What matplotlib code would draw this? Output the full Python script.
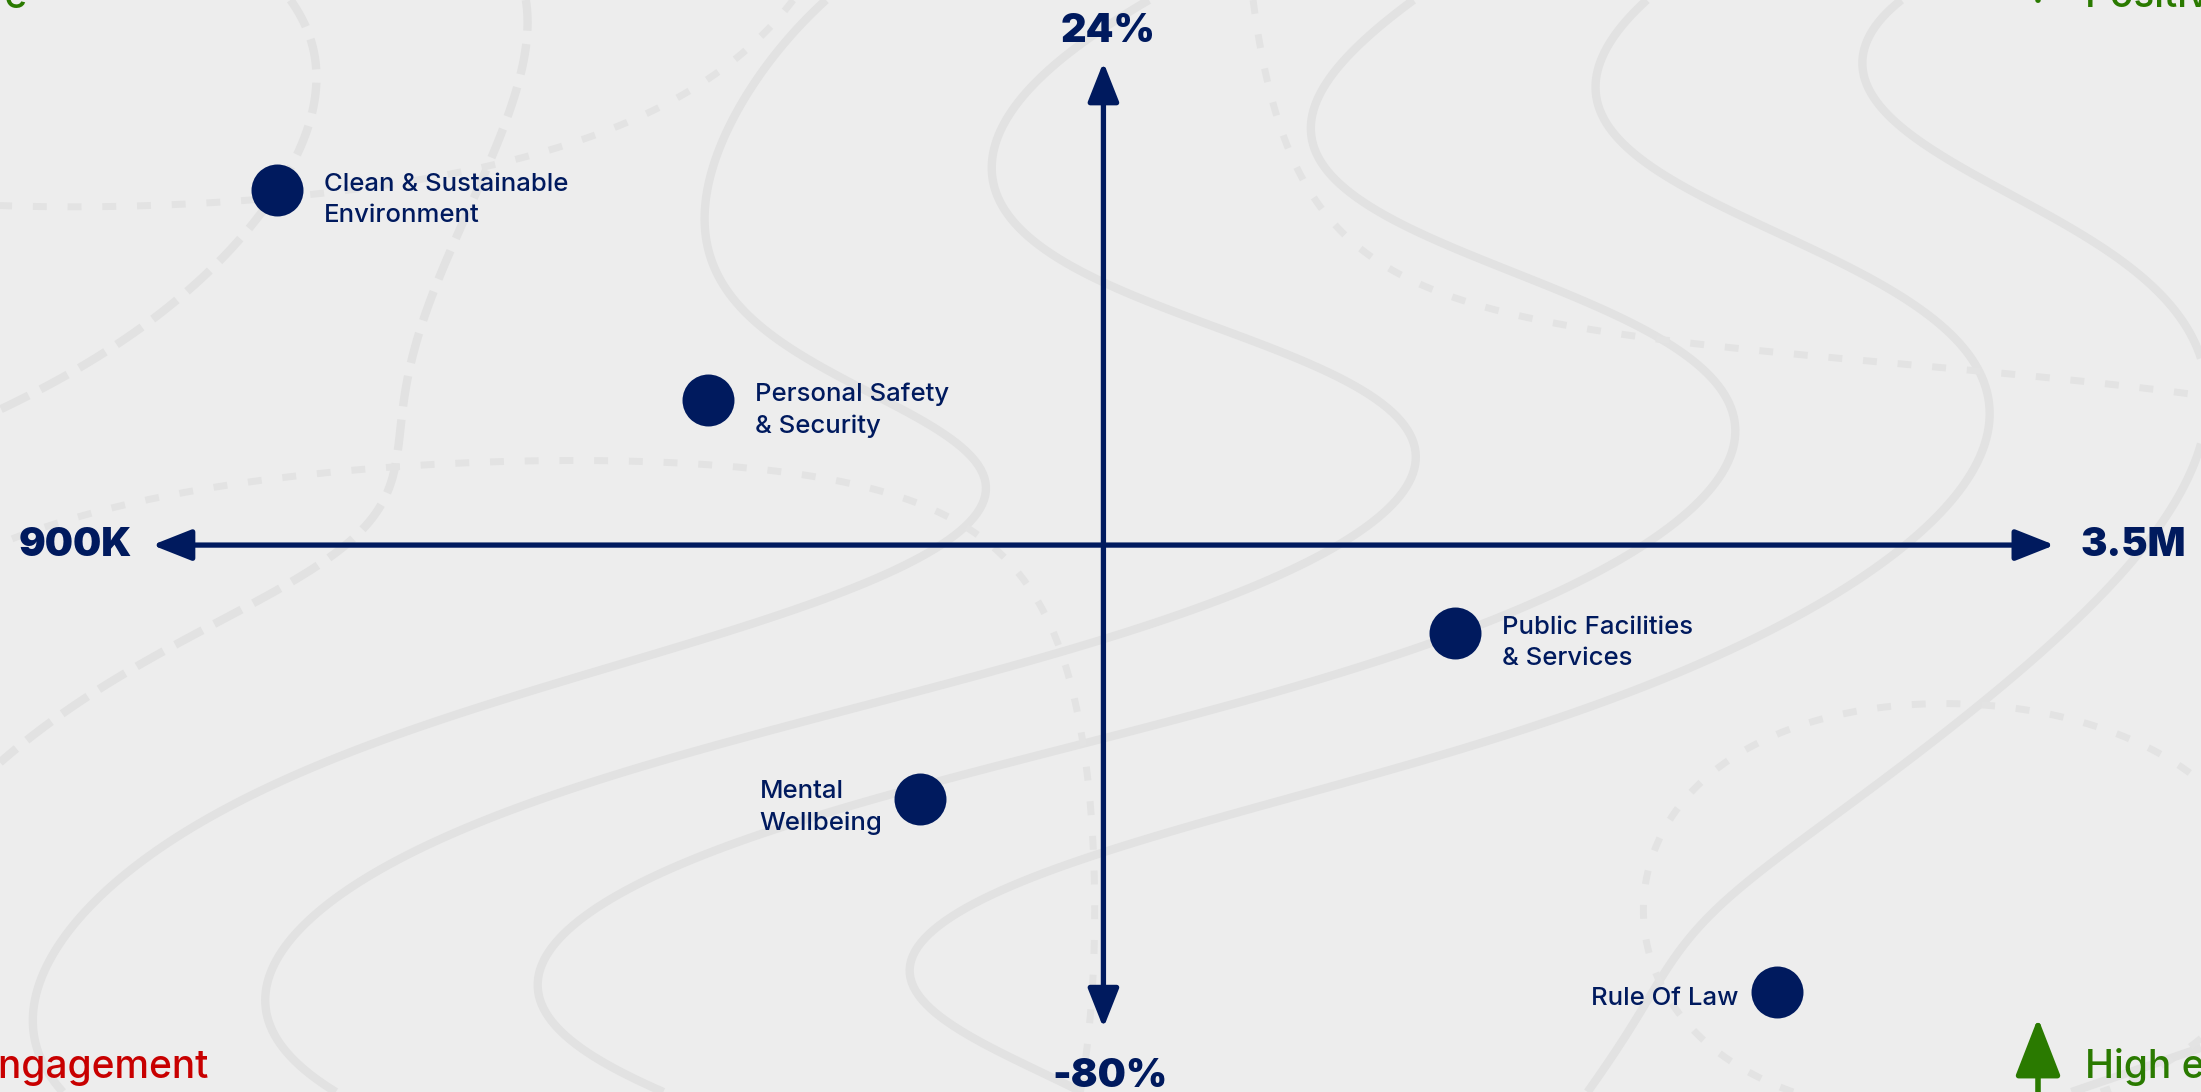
import numpy as np
import matplotlib
matplotlib.use("Agg")
import matplotlib.pyplot as plt

# data (x in millions, y in percent)
names = ["Clean & Sustainable\nEnvironment", "Personal Safety\n& Security",
         "Public Facilities\n& Services", "Mental\nWellbeing", "Rule Of Law"]
x_vals = [1.07, 1.66, 2.68, 1.95, 3.12]
y_vals = [10.2, -12.4, -37.5, -55.3, -76.1]
label_side = ["right", "right", "right", "left", "left"]

x_min, x_max = 0.9, 3.5
y_min, y_max = -80, 24
x_min_lbl, x_max_lbl = "900K", "3.5M"
y_min_lbl, y_max_lbl = "-80%", "24%"

navy = "#001A5E"
green = "#2A7A00"
red = "#C80000"
bg = "#EDEDED"

plt.rcParams['font.family'] = ['Inter', 'DejaVu Sans']

fig = plt.figure(figsize=(22.01, 10.92), dpi=100, facecolor=bg)
ax = fig.add_axes([0, 0, 1, 1])
ax.set_facecolor(bg)

# full-figure data limits so the axis arrows sit where they do in the reference
ax.set_xlim(0.692, 3.70)
ax.set_ylim(-86.9, 30.7)
ax.axis("off")

# decorative topographic background
gx, gy = np.meshgrid(np.linspace(0, 1, 500), np.linspace(0, 1, 250))
field = 5.0 * gx - 1.6 * gy + 0.7 * np.sin(6.0 * gy + 3.0 * gx) \
    + 0.4 * np.cos(10.0 * gy - 4.0 * gx) + 0.3 * np.sin(8 * gx * gy)
field2 = np.sin(4.0 * gx + 1.0) * np.cos(3.0 * gy - 0.5) + 0.6 * gx
X = 0.692 + gx * (3.70 - 0.692)
Y = -86.9 + gy * (30.7 + 86.9)
ax.contour(X, Y, field, levels=np.arange(-1.0, 6.5, 0.8), colors="#E2E2E2",
           linewidths=6, zorder=0)
ax.contour(X, Y, field2, levels=[-0.3, 0.45], colors="#E3E3E3",
           linewidths=5, linestyles=[(0, (2, 3))], zorder=0)

cx = (x_min + x_max) / 2
cy = (y_min + y_max) / 2

# axis arrows
arrow = dict(arrowstyle="<|-|>,head_length=2.4,head_width=0.95", color=navy,
             lw=3.8, shrinkA=0, shrinkB=0)
ax.annotate("", xy=(x_min, cy), xytext=(x_max, cy), arrowprops=arrow, zorder=3)
ax.annotate("", xy=(cx, y_min), xytext=(cx, y_max), arrowprops=arrow, zorder=3)

big = dict(color=navy, fontsize=28.5, fontweight="black", zorder=4,
           textcoords="offset pixels")
ax.annotate(x_min_lbl, (x_min, cy), xytext=(-20, 0), ha="right", va="center", **big)
ax.annotate(x_max_lbl, (x_max, cy), xytext=(26, 0), ha="left", va="center", **big)
ax.annotate(y_max_lbl, (cx, y_max), xytext=(5, 31), ha="center", va="center", **big)
ax.annotate(y_min_lbl, (cx, y_min), xytext=(7, -49), ha="center", va="center", **big)

# points
ax.scatter(x_vals, y_vals, s=1400, color=navy, zorder=5, linewidths=0)
lbl = dict(textcoords="offset pixels", va="center", color=navy, fontsize=18.5,
           fontweight="medium", linespacing=1.45, zorder=6)
for n, xv, yv, side in zip(names, x_vals, y_vals, label_side):
    if side == "right":
        ax.annotate(n, (xv, yv), xytext=(47, -10), ha="left", **lbl)
    elif "\n" in n:
        ax.annotate(n, (xv, yv), xytext=(-161, -9), ha="left", **lbl)
    else:
        ax.annotate(n, (xv, yv), xytext=(-38, -7), ha="right", **lbl)

# corner legend fragments
fig.text(28 / 2201, 1 - (-2) / 1092, "Positive", color=green, fontsize=28,
         ha="right", va="center", fontweight="medium")
fig.text(2085 / 2201, 1 - (-4) / 1092, "Positive engagement", color=green,
         fontsize=28, ha="left", va="center", fontweight="medium")
fig.text(208 / 2201, 1 - 1068 / 1092, "Low engagement", color=red, fontsize=28,
         ha="right", va="center", fontweight="medium")
fig.text(2085 / 2201, 1 - 1067 / 1092, "High engagement", color=green,
         fontsize=28, ha="left", va="center", fontweight="medium")
fig.add_artist(matplotlib.patches.FancyArrowPatch(
    (2038 / 2201, 1 + 10 / 1092), (2038 / 2201, 1 - 3 / 1092),
    transform=fig.transFigure, arrowstyle="-", color=green, lw=4))
fig.add_artist(matplotlib.patches.FancyArrowPatch(
    (2038 / 2201, 1 - 1100 / 1092), (2038 / 2201, 1 - 1018 / 1092),
    transform=fig.transFigure, arrowstyle="-|>,head_length=1.8,head_width=0.7",
    color=green, lw=4, shrinkA=0, shrinkB=0, mutation_scale=20))

fig.savefig("out.png", dpi=100, facecolor=bg)
